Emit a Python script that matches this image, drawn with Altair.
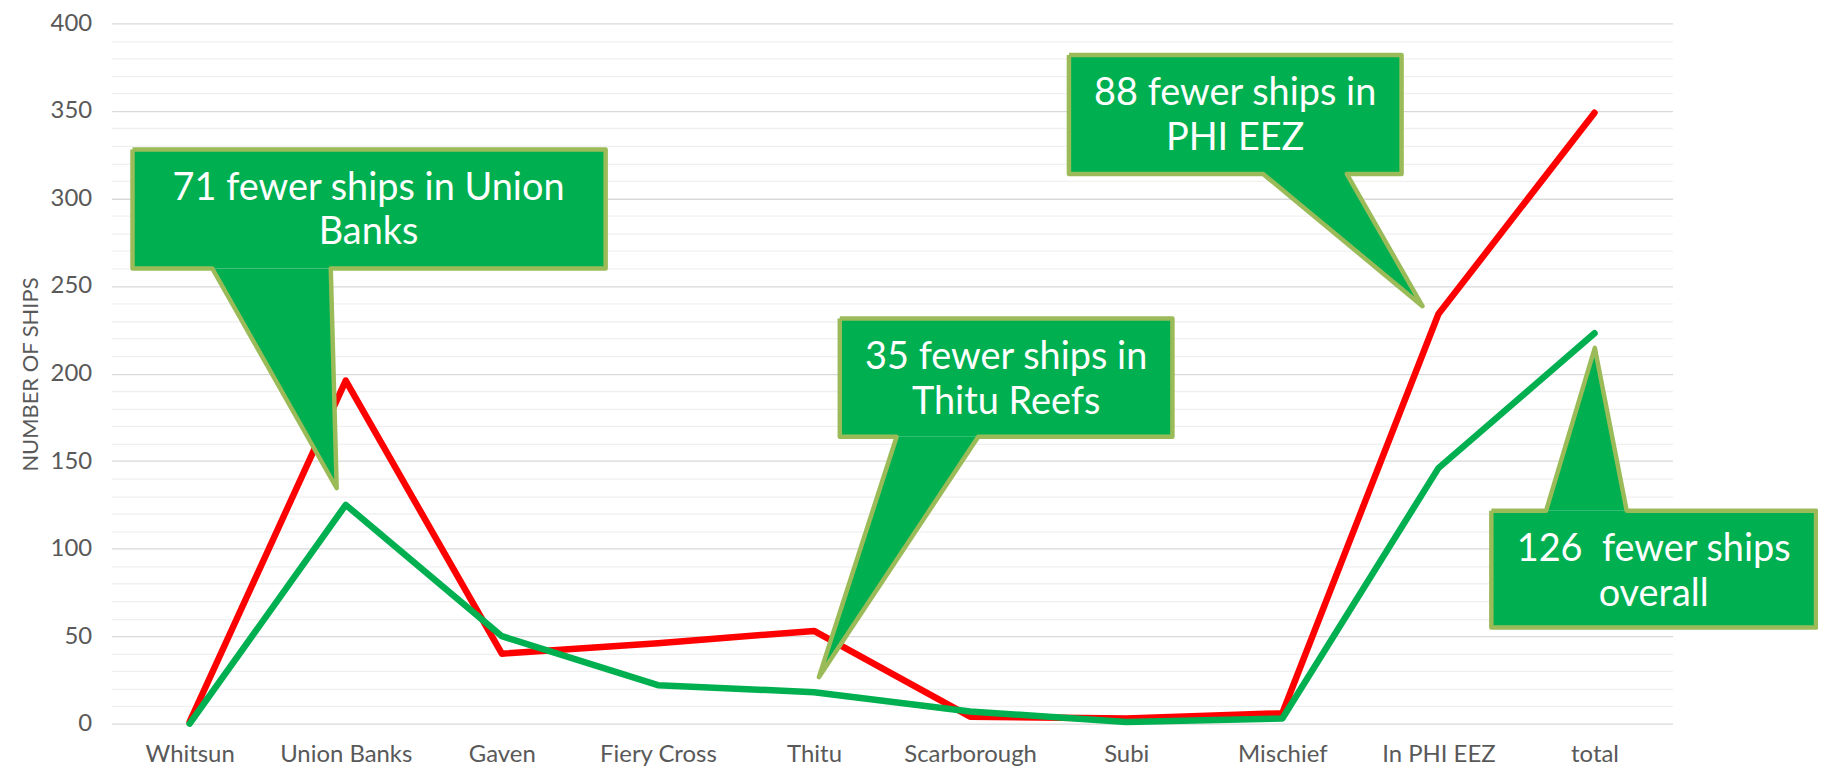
import json
import altair as alt
import pandas as pd

# ---- data ----
categories = ["Whitsun", "Union Banks", "Gaven", "Fiery Cross", "Thitu",
              "Scarborough", "Subi", "Mischief", "In PHI EEZ", "total"]
ships_red = [1, 196, 40, 46, 53, 4, 3, 6, 234, 349]
ships_green = [0, 125, 50, 22, 18, 7, 1, 3, 146, 223]

# ---- callouts (in data units: x = category index, y = ships) ----
callout_text = ["71 fewer ships in Union\nBanks",
                "88 fewer ships in\nPHI EEZ",
                "35 fewer ships in\nThitu Reefs",
                "126 \u00a0fewer ships\noverall"]
box_x0 = [-0.366, 5.633, 4.165, 8.339]
box_x1 = [2.665, 7.764, 6.296, 10.419]
box_ytop = [328.0, 382.0, 231.5, 121.7]
box_ybot = [260.0, 314.0, 163.9, 54.9]
ptr_side = ["bottom", "bottom", "bottom", "top"]
ptr_left = [0.145, 6.877, 4.529, 8.69]
ptr_right = [0.904, 7.413, 5.052, 9.206]
tip_x = [0.942, 7.898, 4.031, 9.002]
tip_y = [134.5, 238.5, 26.6, 214.7]
text_x = [1.146, 6.698, 5.231, 9.379]
text_y = [305.6, 359.6, 208.8, 99.3]   # centre of first text line

FONT = "Lato"
GRAY = "#595959"
RED = "#FF0000"
GREEN = "#00B050"
FILL = "#00B050"
EDGE = "#9BBB59"

xscale = alt.Scale(domain=[-0.5, 9.5], nice=False, zero=False)
yscale = alt.Scale(domain=[0, 400], nice=False, zero=False)

idx = list(range(len(categories)))
df_red = pd.DataFrame({"x": idx, "y": ships_red, "cat": categories})
df_green = pd.DataFrame({"x": idx, "y": ships_green, "cat": categories})

label_expr = json.dumps(categories) + "[datum.value]"

x_axis = alt.Axis(values=idx, labelExpr=label_expr, grid=False, ticks=False,
                  domain=False, labelColor=GRAY, labelFont=FONT, labelFontSize=24,
                  labelPadding=19, labelFlush=False, labelOverlap=False, title=None)
y_axis = alt.Axis(values=list(range(0, 401, 10)),
                  labelExpr="datum.value % 50 === 0 ? datum.label : ''",
                  gridColor={"condition": {"test": "datum.value % 50 === 0", "value": "#d9d9d9"},
                             "value": "#f0f0f0"},
                  gridWidth=1.3, ticks=False, domain=False, labelColor=GRAY,
                  labelFont=FONT, labelFontSize=24, labelPadding=20,
                  labelOverlap=False, labelFlush=False,
                  title="NUMBER OF SHIPS", titleFont=FONT, titleFontSize=22,
                  titleFontWeight="normal", titleColor=GRAY, titleAngle=270,
                  titleX=-81, titleY=352, titleAlign="center", titleBaseline="middle")


def X(field):
    return alt.X(field, scale=xscale, axis=x_axis)


def Y(field):
    return alt.Y(field, scale=yscale, axis=y_axis)


red_line = alt.Chart(df_red).mark_line(color=RED, strokeWidth=6.5, strokeJoin="round",
                                       strokeCap="round").encode(
    x=X("x:Q"), y=Y("y:Q"),
)
green_line = alt.Chart(df_green).mark_line(color=GREEN, strokeWidth=6.5, strokeJoin="round",
                                           strokeCap="round").encode(
    x=X("x:Q"), y=Y("y:Q"),
)

# callout boxes
df_box = pd.DataFrame({"x": box_x0, "x1": box_x1, "y": box_ybot, "y1": box_ytop})
boxes = alt.Chart(df_box).mark_rect(fill=FILL, strokeWidth=0).encode(
    x=X("x:Q"), x2="x1:Q", y=Y("y:Q"), y2="y1:Q",
)

# pointer triangles (horizontal areas: at each y, span between the two pointer edges)
ptr_rows = []
for i in range(len(callout_text)):
    base_y = box_ybot[i] if ptr_side[i] == "bottom" else box_ytop[i]
    ptr_rows.append({"id": i, "y": base_y, "x": ptr_left[i], "x2": ptr_right[i]})
    ptr_rows.append({"id": i, "y": tip_y[i], "x": tip_x[i], "x2": tip_x[i]})
df_ptr = pd.DataFrame(ptr_rows)
pointers = alt.Chart(df_ptr).mark_area(orient="horizontal", fill=FILL, strokeWidth=0).encode(
    y=Y("y:Q"), x=X("x:Q"), x2="x2:Q", detail="id:N",
)

# outlines
out_rows = []
for i in range(len(callout_text)):
    x0, x1, yt, yb = box_x0[i], box_x1[i], box_ytop[i], box_ybot[i]
    if ptr_side[i] == "bottom":
        pts = [(x0, yt), (x1, yt), (x1, yb), (ptr_right[i], yb), (tip_x[i], tip_y[i]),
               (ptr_left[i], yb), (x0, yb), (x0, yt)]
    else:
        pts = [(x0, yt), (ptr_left[i], yt), (tip_x[i], tip_y[i]), (ptr_right[i], yt),
               (x1, yt), (x1, yb), (x0, yb), (x0, yt)]
    for k, (px, py) in enumerate(pts):
        out_rows.append({"id": i, "k": k, "x": px, "y": py})
df_out = pd.DataFrame(out_rows)
outlines = alt.Chart(df_out).mark_line(color=EDGE, strokeWidth=4.5, strokeJoin="round").encode(
    x=X("x:Q"), y=Y("y:Q"), detail="id:N", order="k:Q",
)

df_txt = pd.DataFrame({"x": text_x, "y": text_y, "label": callout_text})
texts = alt.Chart(df_txt).mark_text(font=FONT, fontSize=38, color="white", align="center",
                                    baseline="middle", lineBreak="\n", lineHeight=45).encode(
    x=X("x:Q"), y=Y("y:Q"), text="label:N",
)

chart = alt.layer(red_line, green_line, boxes, pointers, outlines, texts).properties(
    width=1567, height=703,
    background="white",
    autosize=alt.AutoSizeParams(type="none"),
    padding={"left": 104, "top": 14, "right": 146, "bottom": 45},
).configure_view(strokeWidth=0)

chart.save("out.html", embed_options={"renderer": "svg", "actions": False})
